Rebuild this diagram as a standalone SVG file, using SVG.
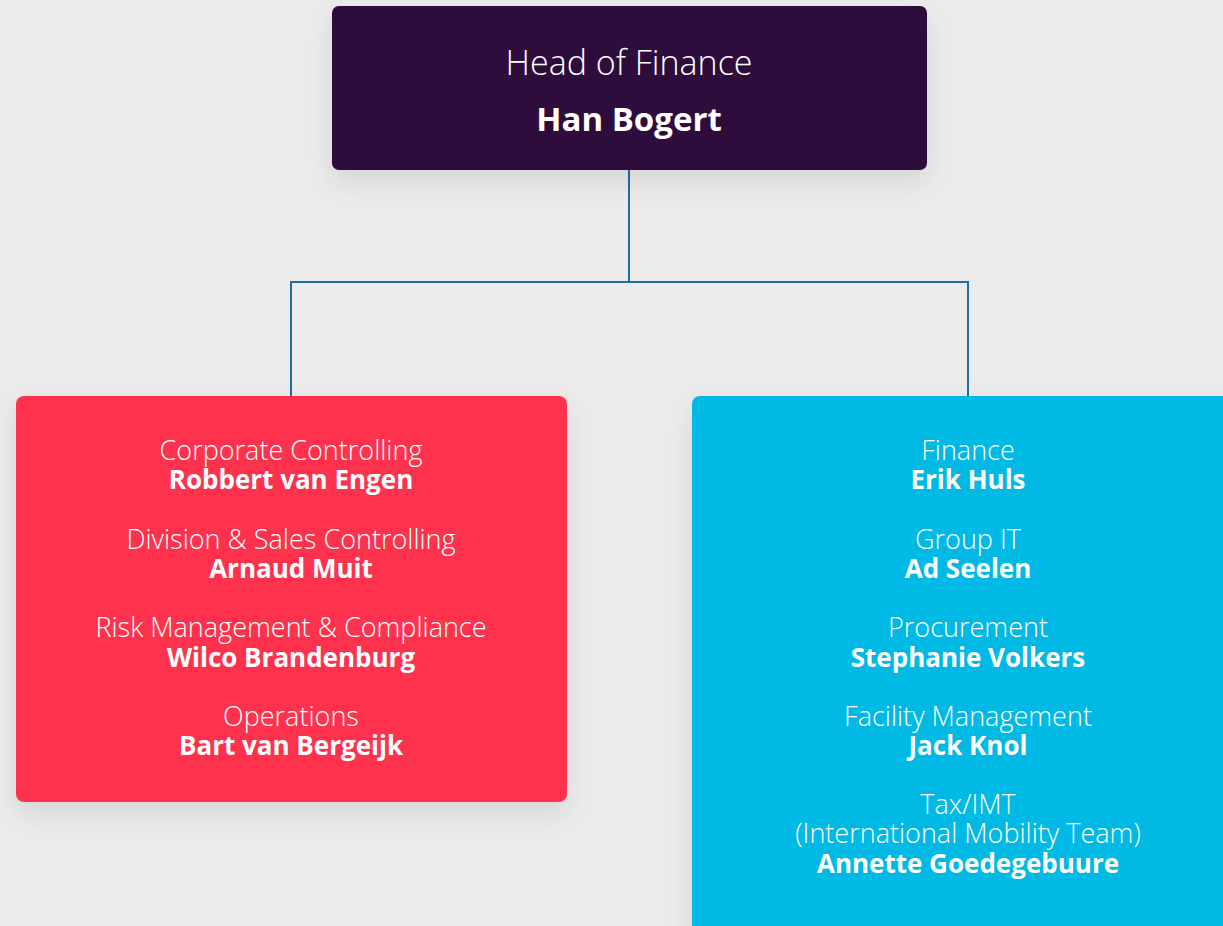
<svg xmlns="http://www.w3.org/2000/svg" width="1223" height="926" viewBox="0 0 1223 926">
<defs>
<filter id="sh" x="-20%" y="-20%" width="140%" height="150%">
<feDropShadow dx="0" dy="12" stdDeviation="12" flood-color="#000" flood-opacity="0.09"/>
</filter>
<style>
.t{font-family:"Open Sans","Noto Sans","Liberation Sans",sans-serif;fill:#fff;text-anchor:middle;font-size:27px;font-weight:300}
.b{font-weight:700;font-size:26px}
.h{font-size:34px}
.hb{font-weight:700;font-size:33px}
.conn{fill:none;stroke:#1b6fa3;stroke-width:2}
</style>
</defs>
<rect width="1223" height="926" fill="#ebebeb"/>
<g id="connectors">
<path class="conn" d="M629 170V282M291 396V282H968V396"/>
</g>
<g id="head">
<rect x="332" y="6" width="595" height="164" rx="7" fill="#2d0c3c" filter="url(#sh)"/>
<text class="t h" x="629" y="75">Head of Finance<tspan class="hb" x="629" y="131">Han Bogert</tspan></text>
</g>
<g id="left">
<rect x="16" y="396" width="551" height="406" rx="8" fill="#ff324d" filter="url(#sh)"/>
<text class="t" x="291" y="460">Corporate Controlling<tspan class="b" x="291" y="489">Robbert van Engen</tspan></text>
<text class="t" x="291" y="549">Division &amp; Sales Controlling<tspan class="b" x="291" y="578">Arnaud Muit</tspan></text>
<text class="t" x="291" y="637">Risk Management &amp; Compliance<tspan class="b" x="291" y="667">Wilco Brandenburg</tspan></text>
<text class="t" x="291" y="726">Operations<tspan class="b" x="291" y="755">Bart van Bergeijk</tspan></text>
</g>
<g id="right">
<rect x="692" y="396" width="560" height="560" rx="8" fill="#00b9e5" filter="url(#sh)"/>
<text class="t" x="968" y="460">Finance<tspan class="b" x="968" y="489">Erik Huls</tspan></text>
<text class="t" x="968" y="549">Group IT<tspan class="b" x="968" y="578">Ad Seelen</tspan></text>
<text class="t" x="968" y="637">Procurement<tspan class="b" x="968" y="667">Stephanie Volkers</tspan></text>
<text class="t" x="968" y="726">Facility Management<tspan class="b" x="968" y="755">Jack Knol</tspan></text>
<text class="t" x="968" y="814">Tax/IMT<tspan x="968" y="843">(International Mobility Team)</tspan><tspan class="b" x="968" y="873">Annette Goedegebuure</tspan></text>
</g>
</svg>
